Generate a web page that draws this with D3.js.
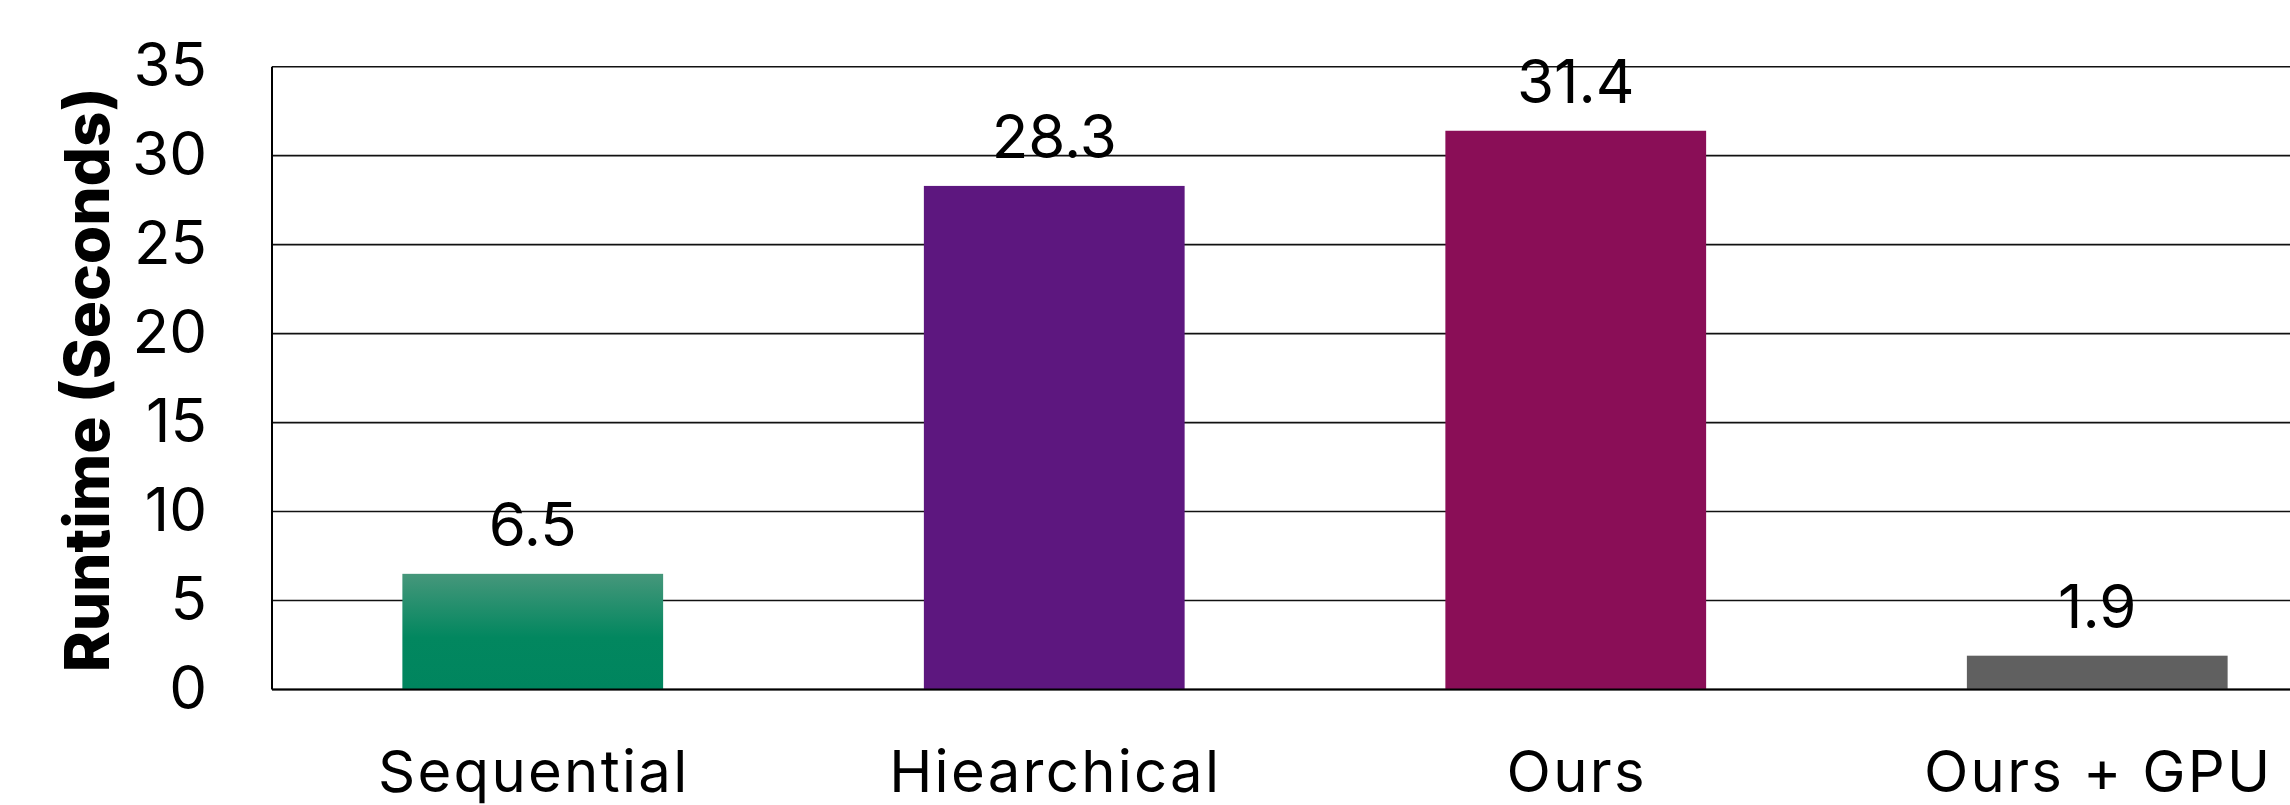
<!DOCTYPE html>
<html>
<head>
<meta charset="utf-8">
<script src="https://cdn.jsdelivr.net/npm/d3@7"></script>
<style>
html,body{margin:0;padding:0;background:#fff;}
svg{display:block;}
text{font-family:Inter,"Noto Sans",sans-serif;fill:#000;}
</style>
</head>
<body>
<svg id="chart" width="2290" height="805"></svg>
<script>
const categories = ["Sequential", "Hiearchical", "Ours", "Ours + GPU"];
const runtimes = [6.5, 28.3, 31.4, 1.9];
const yTicks = [0, 5, 10, 15, 20, 25, 30, 35];
const yTitle = "Runtime (Seconds)";

(function(){
const W = 2290, H = 805;
const plotLeft = 272, plotTop = 66.7, plotBottom = 689.5;
const step = 521.5;
const FONT = 'Inter,"Noto Sans",sans-serif';

const svg = d3.select("#chart");

const defs = svg.append("defs");
const grad = defs.append("linearGradient").attr("id","seqGrad")
  .attr("x1",0).attr("y1",0).attr("x2",0).attr("y2",1);
grad.append("stop").attr("offset","0%").attr("stop-color","#46977b");
grad.append("stop").attr("offset","55%").attr("stop-color","#02875f");
grad.append("stop").attr("offset","100%").attr("stop-color","#00855e");

const colors = ["url(#seqGrad)", "#5d177f", "#8a0e57", "#606060"];

const x = d3.scaleBand().domain(categories)
  .range([plotLeft, plotLeft + step * 4]).paddingInner(0.5).paddingOuter(0.25);
const y = d3.scaleLinear().domain([0, 35]).range([plotBottom, plotTop]);

svg.append("g").selectAll("line").data(yTicks).join("line")
  .attr("x1", plotLeft).attr("x2", W)
  .attr("y1", d => y(d)).attr("y2", d => y(d))
  .attr("stroke", "#111").attr("stroke-width", 1.6);

svg.append("g").selectAll("rect").data(runtimes).join("rect")
  .attr("x", (d,i) => x(categories[i]))
  .attr("width", x.bandwidth())
  .attr("y", d => y(d))
  .attr("height", d => y(0) - y(d))
  .attr("fill", (d,i) => colors[i]);

svg.append("line").attr("x1", plotLeft).attr("x2", W).attr("y1", y(0)).attr("y2", y(0))
  .attr("stroke", "#000").attr("stroke-width", 2);
svg.append("line").attr("x1", plotLeft).attr("x2", plotLeft).attr("y1", y(35)).attr("y2", y(0))
  .attr("stroke", "#000").attr("stroke-width", 2);

const yAxis = d3.axisLeft(y).tickValues(yTicks).tickSize(0).tickPadding(65)
  .tickFormat(d3.format("d"));
const gy = svg.append("g").attr("transform", `translate(${plotLeft},0)`).call(yAxis);
gy.select(".domain").remove();
gy.selectAll("text").attr("font-size", 60).attr("font-family", FONT)
  .attr("dy", "0.31em").attr("fill", "#000");

const xAxis = d3.axisBottom(x).tickSize(0).tickPadding(0);
const gx = svg.append("g").attr("transform", `translate(1,${y(0)})`).call(xAxis);
gx.select(".domain").remove();
gx.selectAll("text").attr("font-size", 58).attr("dy", null).attr("y", 102)
  .attr("letter-spacing", "2.3px")
  .attr("font-family", FONT).attr("fill", "#000");

svg.append("g").selectAll("text").data(runtimes).join("text")
  .attr("x", (d,i) => x(categories[i]) + x.bandwidth()/2)
  .attr("y", d => y(d) - 28)
  .attr("text-anchor", "middle")
  .attr("font-size", 60)
  .text(d => d3.format(".1f")(d));

svg.append("text")
  .attr("transform", `translate(109,380) rotate(-90)`)
  .attr("text-anchor", "middle")
  .attr("font-size", 62).attr("font-weight", 800)
  .text(yTitle);
})();
</script>
</body>
</html>
